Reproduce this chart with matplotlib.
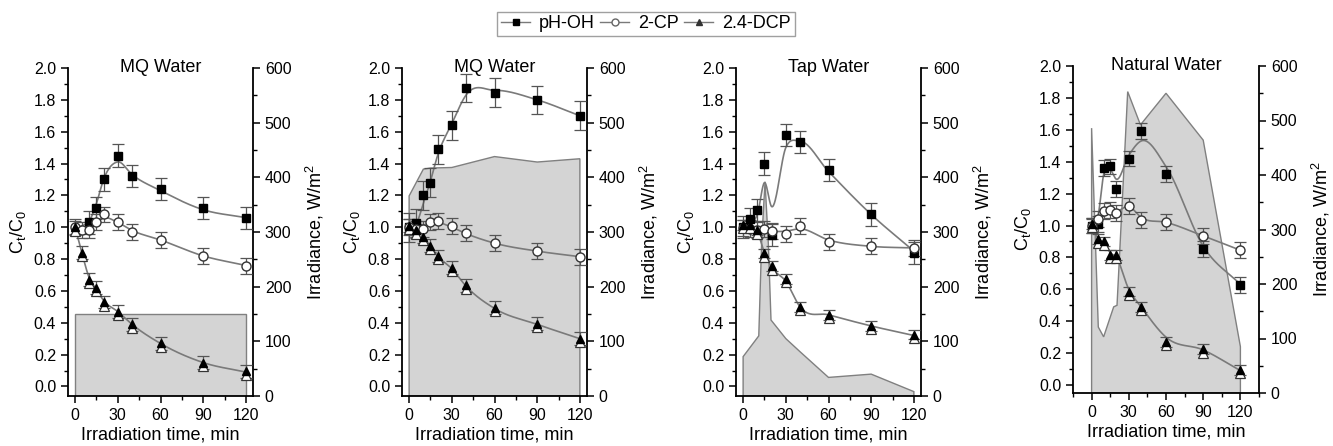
import numpy as np
import matplotlib
matplotlib.use('Agg')
import matplotlib.pyplot as plt
from matplotlib.ticker import MultipleLocator
from matplotlib.lines import Line2D
from matplotlib.transforms import offset_copy

plt.rcParams['font.family'] = ['Liberation Sans', 'DejaVu Sans']

t = [0, 5, 10, 15, 20, 30, 40, 60, 90, 120]
titles = ['MQ Water', 'MQ Water', 'Tap Water', 'Natural Water']
nan = np.nan

# measured points, one list per panel
php = [
    [nan, nan, 1.03, 1.12, 1.30, 1.45, 1.32, 1.24, 1.12, 1.06],
    [1.00, 1.025, 1.20, 1.28, 1.49, 1.64, 1.875, 1.845, 1.80, 1.70],
    [1.00, 1.05, 1.11, 1.40, 0.95, 1.58, 1.535, 1.36, 1.08, 0.84],
    [1.00, 1.01, 1.36, 1.37, 1.23, 1.42, 1.59, 1.32, 0.85, 0.63],
]
cp = [
    [1.00, 0.98, 0.98, 1.03, 1.08, 1.03, 0.97, 0.92, 0.82, 0.755],
    [1.00, 0.99, 0.99, 1.03, 1.04, 1.005, 0.965, 0.90, 0.85, 0.815],
    [0.995, 0.99, 0.985, 0.99, 0.975, 0.96, 1.01, 0.91, 0.88, 0.87],
    [1.00, 1.04, 1.09, 1.10, 1.08, 1.125, 1.035, 1.02, 0.935, 0.845],
]
dcp = [
    [1.00, 0.84, 0.67, 0.62, 0.53, 0.47, 0.39, 0.27, 0.15, 0.094],
    [1.01, 0.98, 0.94, 0.885, 0.82, 0.745, 0.635, 0.495, 0.395, 0.30],
    [1.015, 1.015, 0.98, 0.835, 0.755, 0.675, 0.50, 0.45, 0.38, 0.325],
    [1.01, 0.915, 0.90, 0.815, 0.815, 0.585, 0.49, 0.27, 0.225, 0.095],
]

# fitted curves (same time points)
php_fit = [
    [1.00, 1.01, 1.04, 1.15, 1.30, 1.41, 1.33, 1.23, 1.11, 1.06],
    [1.00, 1.02, 1.15, 1.29, 1.45, 1.65, 1.83, 1.86, 1.80, 1.70],
    [1.00, 1.03, 1.08, 1.28, 1.13, 1.50, 1.54, 1.35, 1.08, 0.85],
    [1.00, 1.05, 1.33, 1.35, 1.29, 1.44, 1.53, 1.37, 0.87, 0.63],
]
cp_fit = [
    [0.99, 0.98, 1.00, 1.04, 1.06, 1.03, 0.98, 0.92, 0.82, 0.76],
    [1.00, 1.00, 1.01, 1.03, 1.03, 1.00, 0.96, 0.90, 0.85, 0.815],
    [1.00, 0.99, 0.985, 0.98, 0.975, 0.975, 0.99, 0.92, 0.88, 0.87],
    [1.00, 1.04, 1.08, 1.10, 1.09, 1.12, 1.05, 1.02, 0.935, 0.845],
]
dcp_fit = [
    [1.00, 0.83, 0.68, 0.61, 0.54, 0.47, 0.39, 0.27, 0.15, 0.09],
    [1.00, 0.98, 0.94, 0.88, 0.82, 0.74, 0.63, 0.49, 0.39, 0.30],
    [1.01, 1.00, 0.97, 0.84, 0.75, 0.66, 0.50, 0.45, 0.38, 0.32],
    [1.00, 0.92, 0.89, 0.83, 0.80, 0.60, 0.49, 0.30, 0.22, 0.09],
]

err_php = [0.07, 0.09, 0.07, 0.05]
err_cp = [0.05, 0.05, 0.05, 0.05]
err_dcp = [0.04, 0.04, 0.03, 0.03]

# irradiance, W/m2
irr_t = [
    [0, 120],
    [0, 10, 15, 30, 60, 90, 120],
    [0, 11, 13, 15.4, 17.7, 19.6, 30, 40, 60, 90, 120],
    [0, 5.4, 9.7, 17.8, 20.5, 26.4, 29.1, 39.4, 60, 90, 120],
]
irr = [
    [150, 150],
    [366, 415, 417, 418, 438, 428, 434],
    [72, 110, 280, 392, 280, 139, 105, 81, 34, 40, 8],
    [486, 121, 103, 158, 161, 427, 553, 492, 550, 464, 85],
]


def smooth(x, y, n=400):
    x = np.asarray(x, float)
    y = np.asarray(y, float)
    m = np.gradient(y, x)
    xs = np.linspace(x[0], x[-1], n)
    i = np.clip(np.searchsorted(x, xs) - 1, 0, len(x) - 2)
    h = x[i + 1] - x[i]
    s = (xs - x[i]) / h
    ys = ((2 * s**3 - 3 * s**2 + 1) * y[i] + (s**3 - 2 * s**2 + s) * h * m[i]
          + (-2 * s**3 + 3 * s**2) * y[i + 1] + (s**3 - s**2) * h * m[i + 1])
    return xs, ys


W, H = 1333, 446
fig = plt.figure(figsize=(W / 100, H / 100), dpi=100)

lefts = [68, 402, 736, 1073]
widths = [185, 185, 185, 186]
bottoms = [396, 396, 396, 393]
tops = [68, 68, 68, 66]
xlims = [(-5, 125), (-5, 125), (-5, 125), (-15, 135)]
ymins = [-0.06, -0.06, -0.06, -0.05]

line_c = '#7a7a7a'
err_c = '#555555'
fill_c = '#d4d4d4'

for k in range(4):
    ax = fig.add_axes([lefts[k] / W, 1 - bottoms[k] / H, widths[k] / W,
                       (bottoms[k] - tops[k]) / H])
    ax2 = ax.twinx()
    ax.set_zorder(ax2.get_zorder() + 1)
    ax.patch.set_visible(False)

    # irradiance area
    px = [irr_t[k][0]] + irr_t[k] + [irr_t[k][-1]]
    py = [0] + irr[k] + [0]
    ax2.fill(px, py, facecolor=fill_c, edgecolor='#808080', lw=1.0)
    ax2.set_ylim(0, 600)
    ax2.yaxis.set_major_locator(MultipleLocator(100))
    ax2.yaxis.set_minor_locator(MultipleLocator(50))
    ax2.set_ylabel('Irradiance, W/m$^\\mathregular{2}$', fontsize=13, labelpad=9)

    # fitted curves
    for fit in (php_fit[k], cp_fit[k], dcp_fit[k]):
        xs, ys = smooth(t, fit)
        ax.plot(xs, ys, color=line_c, lw=1.2, zorder=2)

    ekw = dict(fmt='none', ecolor=err_c, elinewidth=0.9, capsize=4.5,
               capthick=0.9, zorder=3)
    ax.errorbar(t, php[k], yerr=err_php[k], **ekw)
    ax.errorbar(t, cp[k], yerr=err_cp[k], **ekw)
    ax.errorbar(t, dcp[k], yerr=err_dcp[k], **ekw)

    ax.plot(t, php[k], ls='none', marker='s', ms=6, mfc='black', mec='black',
            zorder=4)
    ax.plot(t, cp[k], ls='none', marker='o', ms=6.5, mfc='white', mec='#333333',
            mew=1.0, zorder=5)
    shifted = offset_copy(ax.transData, fig=fig, y=-2.5, units='points')
    ax.plot(t, dcp[k], ls='none', marker='^', ms=6.5, mfc='white', mec='#333333',
            mew=0.9, transform=shifted, zorder=6)
    ax.plot(t, dcp[k], ls='none', marker='^', ms=6, mfc='black', mec='black',
            zorder=7)

    ax.set_xlim(*xlims[k])
    ax.set_ylim(ymins[k], 2.0)
    ax.xaxis.set_major_locator(MultipleLocator(30))
    ax.xaxis.set_minor_locator(MultipleLocator(15))
    ax.yaxis.set_major_locator(MultipleLocator(0.2))
    ax.yaxis.set_minor_locator(MultipleLocator(0.1))
    ax.set_ylabel('C$_\\mathregular{t}$/C$_\\mathregular{0}$', fontsize=13, labelpad=4)
    ax.set_xlabel('Irradiation time, min', fontsize=13, labelpad=3)
    ax.text(0.5, 1.0, titles[k], transform=ax.transAxes, ha='center',
            va='center', fontsize=13)

    for a in (ax, ax2):
        a.spines['top'].set_visible(False)
        for s in a.spines.values():
            s.set_linewidth(1.3)
        a.tick_params(which='major', direction='out', length=5, width=1.1,
                      labelsize=11.5)
        a.tick_params(which='minor', direction='out', length=3, width=1.0)
    ax.spines['right'].set_visible(False)
    ax2.spines['left'].set_visible(False)
    ax2.spines['bottom'].set_visible(False)

handles = [
    Line2D([], [], color=line_c, lw=1.0, marker='s', ms=5, mfc='black', mec='black'),
    Line2D([], [], color=line_c, lw=1.0, marker='o', ms=5, mfc='white', mec='#666666'),
    Line2D([], [], color=line_c, lw=1.0, marker='^', ms=5, mfc='#333333', mec='#333333'),
]
fig.legend(handles, ['pH-OH', '2-CP', '2.4-DCP'], loc='center',
           bbox_to_anchor=(646 / W, 1 - 24 / H), ncol=3, fontsize=13,
           frameon=True, fancybox=False, edgecolor='#888888',
           handlelength=1.6, handletextpad=0.5, columnspacing=0.3,
           borderpad=0.2)

fig.savefig('out.png', dpi=100)
